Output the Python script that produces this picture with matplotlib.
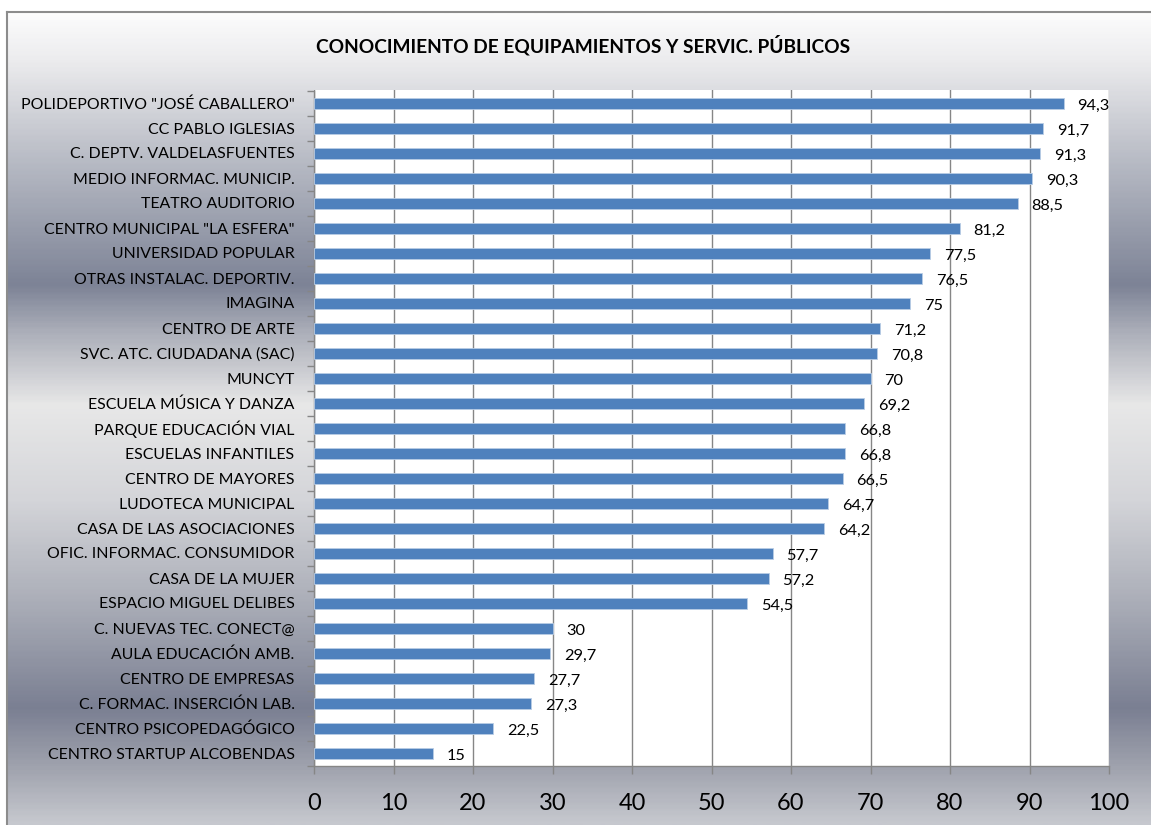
import numpy as np
import matplotlib
matplotlib.use('Agg')
import matplotlib.pyplot as plt
from matplotlib.colors import LinearSegmentedColormap

plt.rcParams['font.family'] = ['Lato', 'DejaVu Sans']

categories = [
    'POLIDEPORTIVO "JOSÉ CABALLERO"', 'CC PABLO IGLESIAS', 'C. DEPTV. VALDELASFUENTES',
    'MEDIO INFORMAC. MUNICIP.', 'TEATRO AUDITORIO', 'CENTRO MUNICIPAL "LA ESFERA"',
    'UNIVERSIDAD POPULAR', 'OTRAS INSTALAC. DEPORTIV.', 'IMAGINA', 'CENTRO DE ARTE',
    'SVC. ATC. CIUDADANA (SAC)', 'MUNCYT', 'ESCUELA MÚSICA Y DANZA', 'PARQUE EDUCACIÓN VIAL',
    'ESCUELAS INFANTILES', 'CENTRO DE MAYORES', 'LUDOTECA MUNICIPAL', 'CASA DE LAS ASOCIACIONES',
    'OFIC. INFORMAC. CONSUMIDOR', 'CASA DE LA MUJER', 'ESPACIO MIGUEL DELIBES',
    'C. NUEVAS TEC. CONECT@', 'AULA EDUCACIÓN AMB.', 'CENTRO DE EMPRESAS',
    'C. FORMAC. INSERCIÓN LAB.', 'CENTRO PSICOPEDAGÓGICO', 'CENTRO STARTUP ALCOBENDAS',
]
values = [94.3, 91.7, 91.3, 90.3, 88.5, 81.2, 77.5, 76.5, 75, 71.2, 70.8, 70, 69.2, 66.8,
          66.8, 66.5, 64.7, 64.2, 57.7, 57.2, 54.5, 30, 29.7, 27.7, 27.3, 22.5, 15]
title = 'CONOCIMIENTO DE EQUIPAMIENTOS Y SERVIC. PÚBLICOS'

W, H = 1151, 825
fig = plt.figure(figsize=(W / 100, H / 100), dpi=100)
fig.patch.set_facecolor('white')

# gradient background inside the chart frame (Excel style)
stops_px = [12, 60, 150, 284, 330, 405, 500, 600, 710, 770, 825]
stops_rgb = [(252, 252, 252), (235, 235, 237), (188, 191, 200), (125, 131, 150),
             (170, 173, 184), (232, 232, 232), (212, 213, 217), (172, 175, 185),
             (122, 127, 146), (160, 163, 174), (198, 200, 206)]
pos = [(p - 12) / (825 - 12) for p in stops_px]
cmap = LinearSegmentedColormap.from_list(
    'bg', [(p, tuple(c / 255 for c in rgb)) for p, rgb in zip(pos, stops_rgb)])
bg = fig.add_axes([7 / W, 0, 1 - 7 / W, 1 - 12 / H], zorder=0)
bg.imshow(np.linspace(0, 1, 400).reshape(-1, 1), aspect='auto', cmap=cmap,
          extent=[0, 1, 0, 1], origin='upper')
bg.set_xticks([])
bg.set_yticks([])
for s in ['right', 'bottom']:
    bg.spines[s].set_visible(False)
for s in ['left', 'top']:
    bg.spines[s].set_color('#8c8c8c')
    bg.spines[s].set_linewidth(1.5)

# plot area
left, right, top, bottom = 314, 1109, 90.5, 765.5
ax = fig.add_axes([left / W, 1 - bottom / H, (right - left) / W, (bottom - top) / H], zorder=1)
ax.set_facecolor('white')

y = np.arange(len(categories))
ax.barh(y, values, height=0.44, color='#4f81bd', edgecolor='#b9cde5', linewidth=0.6, zorder=3)
for yi, v in zip(y, values):
    ax.annotate(f'{v:g}'.replace('.', ','), (v, yi), xytext=(10, -2), textcoords='offset points',
                va='center', ha='left', fontsize=11.8, color='black')

ax.set_ylim(len(categories) - 0.5, -0.5)
ax.set_xlim(0, 100)
ax.set_yticks(y)
ax.set_yticklabels(categories, fontsize=11.4)
ax.set_yticks(np.arange(len(categories) + 1) - 0.5, minor=True)
ax.tick_params(axis='y', which='major', length=0, pad=14)
ax.tick_params(axis='y', which='minor', length=5, color='#868686', width=1)
ax.set_xticks(np.arange(0, 101, 10))
ax.tick_params(axis='x', length=6, color='#868686', width=1, labelsize=17, pad=14)
ax.grid(axis='x', color='#868686', linewidth=1, zorder=0)
ax.spines['top'].set_visible(False)
ax.spines['right'].set_visible(False)
for s in ['left', 'bottom']:
    ax.spines[s].set_color('#868686')
    ax.spines[s].set_linewidth(1)

fig.text(583 / W, 1 - 45 / H, title, ha='center', va='center', fontsize=13.8, fontweight='bold')

fig.savefig('out.png', dpi=100)
